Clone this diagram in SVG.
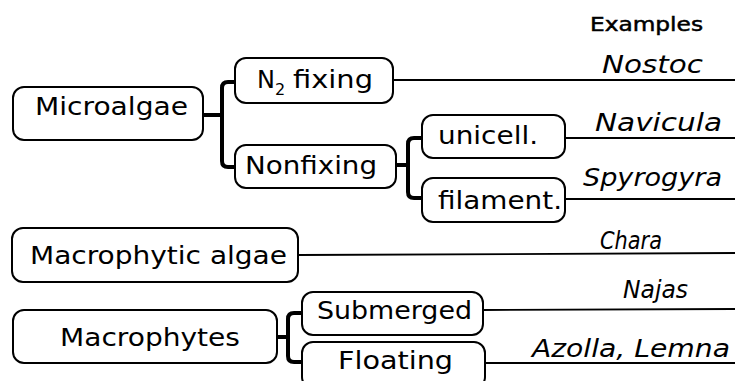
<svg xmlns="http://www.w3.org/2000/svg" width="735" height="381" viewBox="0 0 735 381">
<style>
.box{fill:#fff;stroke:#000;stroke-width:2}
.t{font-family:"DejaVu Sans",sans-serif;font-size:24px;fill:#000}
.ex{font-family:"DejaVu Sans",sans-serif;font-size:24px;font-style:italic;fill:#000}
.hd{font-family:"DejaVu Sans",sans-serif;font-size:20px;fill:#000;stroke:#000;stroke-width:0.5}
.thin{stroke:#000;stroke-width:1.8;fill:none}
.thick{stroke:#000;stroke-width:4;fill:none}
</style>
<rect width="735" height="381" fill="#fff"/>
<text class="hd" x="590" y="31" textLength="113" lengthAdjust="spacingAndGlyphs">Examples</text>
<g id="connectors">
<path class="thin" d="M393,80 H735"/>
<path class="thin" d="M565,138 H735"/>
<path class="thin" d="M565,199 H735"/>
<path class="thin" d="M298,255 L735,253"/>
<path class="thin" d="M483,310 L735,309"/>
<path class="thin" d="M485,363 H735"/>
<path class="thick" d="M203,115 H222"/>
<path class="thick" d="M235,82 H228 Q222,82 222,88 V161 Q222,167 228,167 H235"/>
<path class="thick" d="M396,165 H408"/>
<path class="thick" d="M422,138 H414 Q408,138 408,144 V192 Q408,198 414,198 H422"/>
<path class="thick" d="M277,337 H288"/>
<path class="thick" d="M302,313 H294 Q288,313 288,319 V356 Q288,362 294,362 H302"/>
</g>
<g id="microalgae"><rect class="box" x="13" y="87" width="190" height="53" rx="11"/><text class="t" x="35" y="115" textLength="153" lengthAdjust="spacingAndGlyphs">Microalgae</text></g>
<g id="n2fixing"><rect class="box" x="235" y="58" width="158" height="45" rx="11"/><text class="t" x="257" y="88">N<tspan font-size="16" dy="7">2</tspan><tspan dy="-7" x="293" textLength="80" lengthAdjust="spacingAndGlyphs">fixing</tspan></text></g>
<g id="nonfixing"><rect class="box" x="235" y="145" width="161" height="43" rx="11"/><text class="t" x="245" y="174" textLength="132" lengthAdjust="spacingAndGlyphs">Nonfixing</text></g>
<g id="unicell"><rect class="box" x="422" y="115" width="143" height="43" rx="11"/><text class="t" x="438" y="144" textLength="100" lengthAdjust="spacingAndGlyphs">unicell.</text></g>
<g id="filament"><rect class="box" x="422" y="178" width="143" height="44" rx="11"/><text class="t" x="438" y="209" textLength="124" lengthAdjust="spacingAndGlyphs">filament.</text></g>
<g id="macrophytic"><rect class="box" x="12" y="228" width="286" height="54" rx="11"/><text class="t" x="30" y="264" textLength="257" lengthAdjust="spacingAndGlyphs">Macrophytic algae</text></g>
<g id="macrophytes"><rect class="box" x="13" y="310" width="264" height="53" rx="11"/><text class="t" x="60" y="346" textLength="180" lengthAdjust="spacingAndGlyphs">Macrophytes</text></g>
<g id="submerged"><rect class="box" x="302" y="292" width="181" height="43" rx="11"/><text class="t" x="317" y="319" textLength="155" lengthAdjust="spacingAndGlyphs">Submerged</text></g>
<g id="floating"><rect class="box" x="302" y="342" width="183" height="46" rx="11"/><text class="t" x="338" y="369" textLength="115" lengthAdjust="spacingAndGlyphs">Floating</text></g>
<g id="examples">
<text class="ex" x="602" y="73" textLength="101" lengthAdjust="spacingAndGlyphs">Nostoc</text>
<text class="ex" x="595" y="131" textLength="127" lengthAdjust="spacingAndGlyphs">Navicula</text>
<text class="ex" x="583" y="186" textLength="139" lengthAdjust="spacingAndGlyphs">Spyrogyra</text>
<text class="ex" x="600" y="249" textLength="62" lengthAdjust="spacingAndGlyphs">Chara</text>
<text class="ex" x="623" y="298" textLength="65" lengthAdjust="spacingAndGlyphs">Najas</text>
<text class="ex" x="532" y="357" textLength="198" lengthAdjust="spacingAndGlyphs">Azolla, Lemna</text>
</g>
</svg>
